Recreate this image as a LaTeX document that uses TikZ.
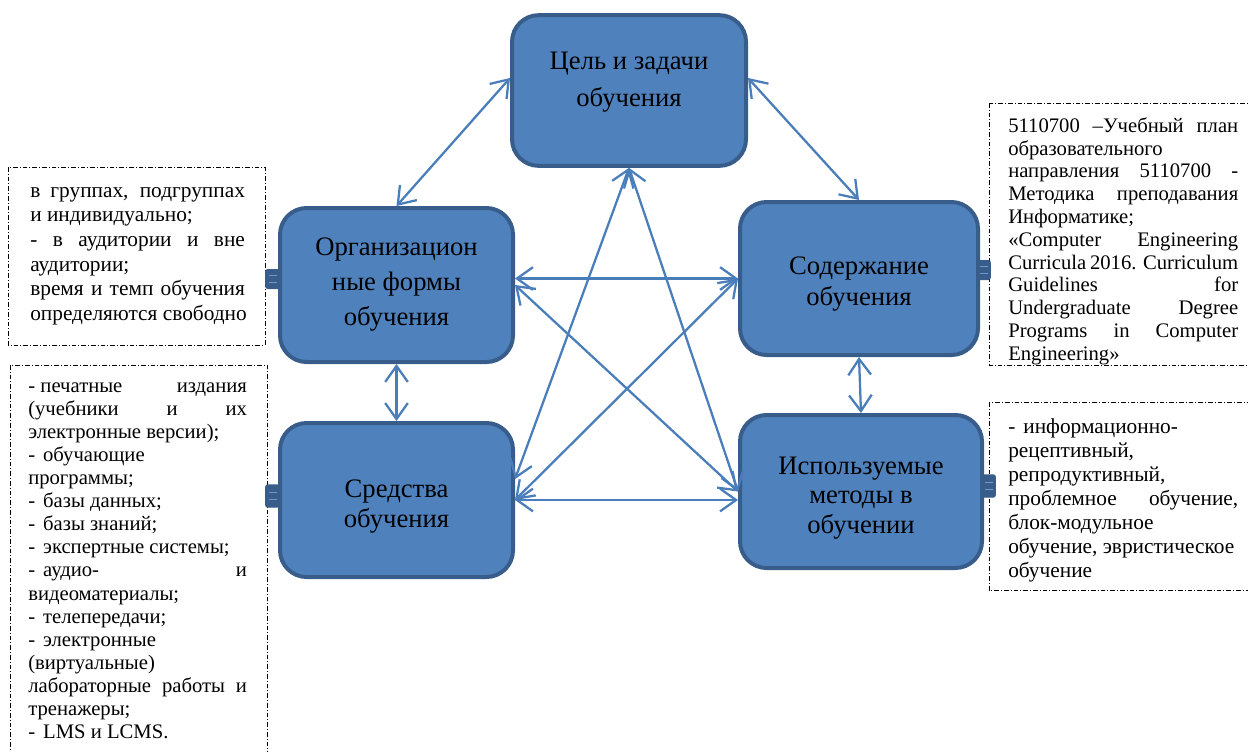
\documentclass[tikz,border=0pt]{standalone}
\usepackage{fontspec}
\setmainfont{Liberation Serif}
\usetikzlibrary{arrows.meta, positioning}
\definecolor{boxfill}{RGB}{79,129,189}
\definecolor{boxline}{RGB}{56,93,138}
\definecolor{arrowblue}{RGB}{74,126,187}
\definecolor{tabline}{RGB}{110,152,206}
\setlength{\parindent}{0pt}
\newcommand{\jl}[2][161pt]{\makebox[#1][s]{#2}}
\newcommand{\dsh}{-\hspace{6pt}}

\begin{document}
\begin{tikzpicture}[x=0.75pt,y=0.75pt,yscale=-1,xscale=1,
	box/.style={draw=boxline, line width=3pt, fill=boxfill, rounded corners=20pt, align=center, inner sep=2pt, font=\fontsize{20}{27.75}\selectfont},
	arr/.style={draw=arrowblue, line width=1.7pt, {Straight Barb[length=12pt,width=17pt]}-{Straight Barb[length=12pt,width=17pt]}},
	frame/.style={draw=black, line width=0.6pt, dash pattern=on 3.5pt off 1.5pt on 0.75pt off 1.5pt},
	note/.style={anchor=north west, inner sep=0pt, align=left},
	tab/.style={draw=boxline, fill=boxline, line width=1pt, rounded corners=1.5pt, inner sep=0pt, minimum width=10pt, minimum height=14pt,
		path picture={\draw[tabline, line width=0.8pt] ([xshift=-3pt,yshift=2.5pt]path picture bounding box.center) -- ++(6pt,0) ([xshift=-3pt,yshift=-2.5pt]path picture bounding box.center) -- ++(6pt,0);}}]
		\useasboundingbox (0,0) rectangle (1248,751);

		%Dashed frames
		\draw [frame] (8,167) rectangle (265,345);
		\draw [frame] (10,365) rectangle (267,780);
		\draw [frame] (989,103) rectangle (1256,365);
		\draw [frame] (989,402) rectangle (1256,590);

		%Tabs
		\node [tab] (orgtab) at (272.5,279) {};
		\node [tab, minimum height=16.5pt] (toolstab) at (272.5,496) {};
		\node [tab] (contenttab) at (983.5,270) {};
		\node [tab, minimum height=16.5pt] (methodstab) at (988.5,486) {};

		%Rounded Rects
		\node [box, minimum width=175.5pt, minimum height=113pt] (goal) at (629,90.5) {Цель и задачи\\обучения\\[-11pt]~};
		\node [box, minimum width=174.75pt, minimum height=115.5pt, font=\fontsize{20}{26.25}\selectfont] (org) at (396.5,285) {Организацион\\ные формы\\обучения};
		\node [box, minimum width=178.5pt, minimum height=114.75pt, font=\fontsize{20}{23.25}\selectfont] (content) at (859,278.5) {~\\[-1.75pt]Содержание\\обучения};
		\node [box, minimum width=174.75pt, minimum height=115.5pt, font=\fontsize{20}{22.5}\selectfont] (tools) at (396.5,500) {~\\Средства\\обучения};
		\node [box, minimum width=181.5pt, minimum height=114.75pt, font=\fontsize{20}{22}\selectfont] (methods) at (861,491.5) {~\\[1pt]Используемые\\методы в\\обучении};

		%Arrows
		\draw [arr] (goal.174) -- (org.north);
		\draw [arr] (goal.6) -- (content.north);
		\draw [arr] (goal.south) -- (tools.10);
		\draw [arr] (goal.south) -- (methods.west);
		\draw [arr] (org.east |- content.west) -- (content.west);
		\draw [arr] (org.east) -- (methods.west);
		\draw [arr] (content.west) -- (tools.east);
		\draw [arr] (tools.east) -- (tools.east -| methods.west);
		\draw [arr] (org.south) -- (tools.north);
		\draw [arr] (content.south) -- (methods.north);

		% Text Node
		\node [note, font=\fontsize{16}{18.4}\selectfont] (formsnote) at (30,180) {\jl{\strut в группах, подгруппах}\\и индивидуально;\\\jl{- в аудитории и вне}\\аудитории;\\\jl{время и темп обучения}\\определяются свободно};
		% Text Node
		\node [note, font=\fontsize{15.5}{17.1}\selectfont] (contentnote) at (1008,116) {\jl[172.5pt]{\strut 5110700 –Учебный план}\\образовательного\\\jl[172.5pt]{направления 5110700 -}\\\jl[172.5pt]{Методика преподавания}\\Информатике;\\\jl[172.5pt]{«Computer Engineering}\\\jl[172.5pt]{Curricula 2016. Curriculum}\\\jl[172.5pt]{Guidelines for}\\\jl[172.5pt]{Undergraduate Degree}\\\jl[172.5pt]{Programs in Computer}\\Engineering»};
		% Text Node
		\node [note, font=\fontsize{15.5}{17.3}\selectfont] (toolsnote) at (28,376) {\jl[164pt]{\strut-\hspace{4pt}печатные издания}\\\jl[164pt]{(учебники и их}\\электронные версии);\\\dsh обучающие\\программы;\\\dsh базы данных;\\\dsh базы знаний;\\\dsh экспертные системы;\\\jl[164pt]{\dsh аудио- и}\\видеоматериалы;\\\dsh телепередачи;\\\dsh электронные\\(виртуальные)\\\jl[164pt]{лабораторные работы и}\\тренажеры;\\\dsh LMS и LCMS.};
		% Text Node
		\node [note, font=\fontsize{16}{18}\selectfont] (methodsnote) at (1008,416) {\strut\dsh информационно-\\рецептивный,\\репродуктивный,\\\jl[172.5pt]{проблемное обучение,}\\блок-модульное\\обучение, эвристическое\\обучение};
\end{tikzpicture}
\end{document}
